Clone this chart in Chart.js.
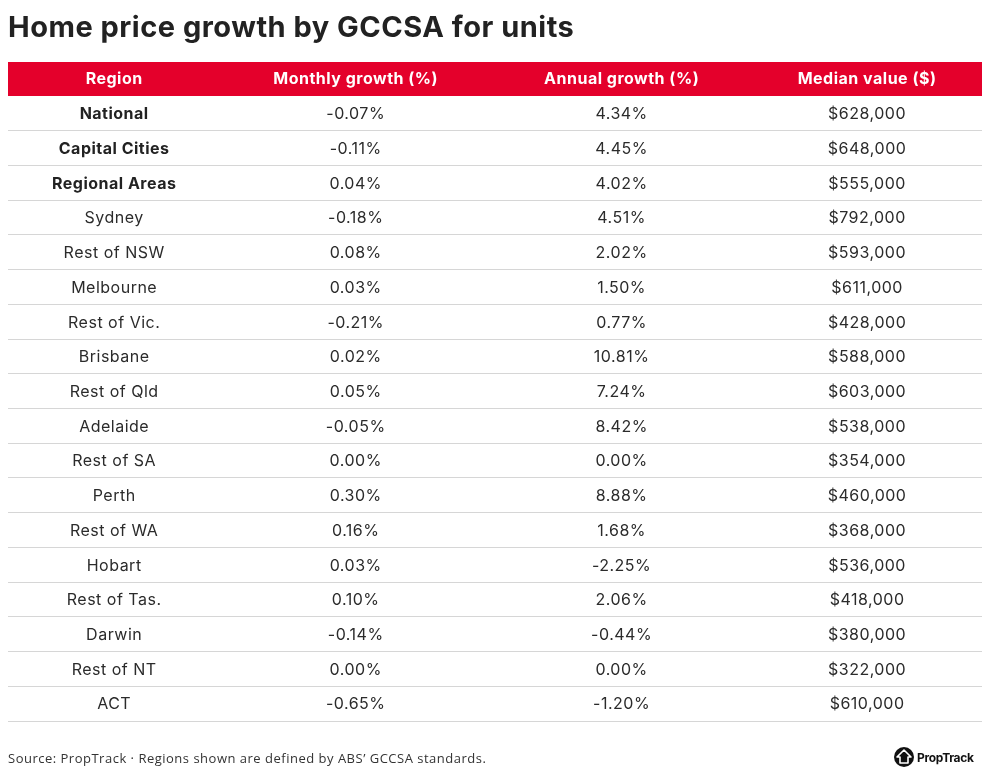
<!DOCTYPE html>
<html>
<head>
<meta charset="utf-8">
<title>Home price growth by GCCSA for units</title>
<script src="https://cdn.jsdelivr.net/npm/chart.js@4/dist/chart.umd.min.js"></script>
<style>
  html, body { margin: 0; padding: 0; background: #fff; }
  #wrap { width: 985px; height: 777px; position: relative; }
</style>
</head>
<body>
<div id="wrap"><canvas id="tableChart"></canvas></div>
<script>
// Table contents
const headers = ['Region', 'Monthly growth (%)', 'Annual growth (%)', 'Median value ($)'];
const regions = ['National', 'Capital Cities', 'Regional Areas', 'Sydney', 'Rest of NSW', 'Melbourne',
  'Rest of Vic.', 'Brisbane', 'Rest of Qld', 'Adelaide', 'Rest of SA', 'Perth', 'Rest of WA',
  'Hobart', 'Rest of Tas.', 'Darwin', 'Rest of NT', 'ACT'];
const monthlyGrowth = [-0.07, -0.11, 0.04, -0.18, 0.08, 0.03, -0.21, 0.02, 0.05, -0.05, 0.00, 0.30, 0.16, 0.03, 0.10, -0.14, 0.00, -0.65];
const annualGrowth = [4.34, 4.45, 4.02, 4.51, 2.02, 1.50, 0.77, 10.81, 7.24, 8.42, 0.00, 8.88, 1.68, -2.25, 2.06, -0.44, 0.00, -1.20];
const medianValue = [628000, 648000, 555000, 792000, 593000, 611000, 428000, 588000, 603000, 538000, 354000, 460000, 368000, 536000, 418000, 380000, 322000, 610000];
const boldRows = ['National', 'Capital Cities', 'Regional Areas'];

// column centres along the x axis, in percent of the table width
const colCentres = [10.9, 35.7, 63.0, 88.2];

const RED = '#e4002b';
const TEXT = '#222';
const FONT = 'Inter, "Noto Sans", sans-serif';

const fmtPct = (v) => v.toFixed(2) + '%';
const fmtMoney = (v) => '$' + v.toLocaleString('en-US');

function column(colIdx, texts) {
    return {
        label: headers[colIdx],
        data: regions.map((r) => ({ x: colCentres[colIdx], y: r })),
        cellText: texts,
        pointRadius: 0,
        pointHoverRadius: 0
    };
}

// red header band behind the top axis labels; also widen the letter spacing a touch
const headerBand = {
    id: 'headerBand',
    beforeDraw(chart) {
        const x = chart.scales.x;
        const { ctx, chartArea } = chart;
        ctx.letterSpacing = '0.5px';
        ctx.save();
        ctx.fillStyle = RED;
        ctx.fillRect(chartArea.left, x.top, chartArea.right - chartArea.left, x.bottom - x.top);
        ctx.restore();
    }
};

// write the cell text at each point position
const cellText = {
    id: 'cellText',
    afterDatasetsDraw(chart) {
        const ctx = chart.ctx;
        ctx.save();
        ctx.textAlign = 'center';
        ctx.textBaseline = 'middle';
        chart.data.datasets.forEach((ds, di) => {
            chart.getDatasetMeta(di).data.forEach((pt, i) => {
                const bold = di === 0 && boldRows.includes(regions[i]);
                ctx.font = (bold ? '700' : '400') + ' 16px ' + FONT;
                ctx.fillStyle = bold ? TEXT : '#2b2b2b';
                ctx.fillText(ds.cellText[i], pt.x, pt.y + 1);
            });
        });
        ctx.restore();
    }
};

// PropTrack logo in the footer
const logo = {
    id: 'logo',
    afterDraw(chart) {
        const ctx = chart.ctx;
        const cx = chart.width - 81, cy = 757;
        ctx.save();
        ctx.letterSpacing = '-0.3px';
        ctx.fillStyle = '#111';
        ctx.beginPath();
        ctx.arc(cx, cy, 10, 0, Math.PI * 2);
        ctx.fill();
        ctx.strokeStyle = '#fff';
        ctx.lineWidth = 1.6;
        ctx.lineJoin = 'round';
        ctx.beginPath();
        ctx.moveTo(cx - 4, cy + 6);
        ctx.lineTo(cx - 4, cy);
        ctx.lineTo(cx - 7, cy);
        ctx.lineTo(cx, cy - 7);
        ctx.lineTo(cx + 7, cy);
        ctx.lineTo(cx + 4, cy);
        ctx.lineTo(cx + 4, cy + 6);
        ctx.closePath();
        ctx.stroke();
        ctx.font = '700 12px ' + FONT;
        ctx.textBaseline = 'middle';
        ctx.textAlign = 'left';
        ctx.fillText('PropTrack', cx + 13, cy + 1);
        ctx.restore();
    }
};

new Chart(document.getElementById('tableChart').getContext('2d'), {
    type: 'scatter',
    data: {
        datasets: [
            column(0, regions),
            column(1, monthlyGrowth.map(fmtPct)),
            column(2, annualGrowth.map(fmtPct)),
            column(3, medianValue.map(fmtMoney))
        ]
    },
    options: {
        responsive: true,
        maintainAspectRatio: false,
        animation: false,
        events: [],
        layout: { padding: { left: 8, right: 3, top: 0, bottom: 0 } },
        scales: {
            x: {
                type: 'linear',
                position: 'top',
                min: 0,
                max: 100,
                afterBuildTicks: (s) => { s.ticks = colCentres.map((v) => ({ value: v })); },
                afterFit: (s) => { s.height = 34; },
                grid: { display: false, drawTicks: false },
                border: { display: false },
                ticks: {
                    autoSkip: false,
                    maxRotation: 0,
                    padding: 7,
                    color: '#fff',
                    font: { family: FONT, size: 16, weight: '700' },
                    callback: (v, i) => headers[i]
                }
            },
            y: {
                type: 'category',
                labels: regions,
                offset: true,
                afterFit: (s) => { s.width = 0; },
                grid: {
                    offset: true,
                    drawTicks: false,
                    color: (c) => c.index === 0 ? 'rgba(0,0,0,0)' : '#d6d6d6',
                    lineWidth: 1
                },
                border: { display: false },
                ticks: { display: false }
            }
        },
        plugins: {
            legend: { display: false },
            tooltip: { enabled: false },
            title: {
                display: true,
                text: 'Home price growth by GCCSA for units',
                align: 'start',
                color: TEXT,
                font: { family: FONT, size: 29, weight: '700', lineHeight: 1.2 },
                padding: { top: 11, bottom: 16.2 }
            },
            subtitle: {
                display: true,
                position: 'bottom',
                align: 'start',
                text: 'Source: PropTrack \u00b7 Regions shown are defined by ABS\u2019 GCCSA standards.',
                color: '#333',
                font: { family: '"Open Sans", sans-serif', size: 13, lineHeight: 1.2 },
                padding: { top: 30.2, bottom: 10.2 }
            }
        }
    },
    plugins: [headerBand, cellText, logo]
});
</script>
</body>
</html>
